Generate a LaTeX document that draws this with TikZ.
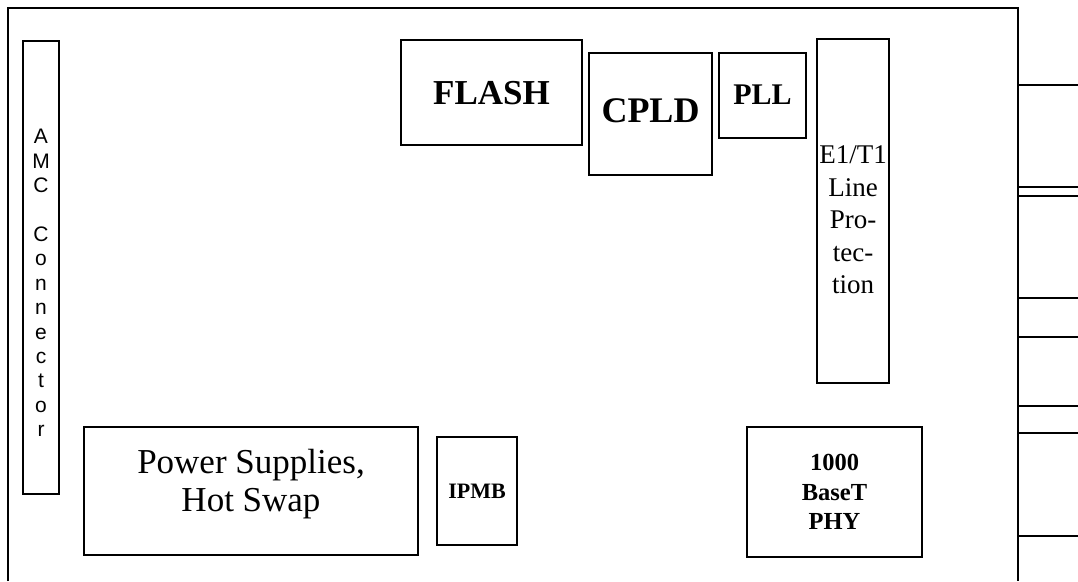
\documentclass[tikz,border=0pt]{standalone}
\usepackage{fontspec}
\setmainfont{Liberation Serif}
\newfontfamily\amcfont{Liberation Sans}
\begin{document}
\begin{tikzpicture}[x=1pt,y=-1pt,
  box/.style={draw=black,line width=1.2pt,rectangle,inner sep=0pt},
  lbl/.style={align=center,inner sep=0pt},
  stub/.style={draw=black,line width=1.2pt}]
\useasboundingbox (0,0) rectangle (1078,581);
% board outline (open at the bottom)
\coordinate (bl) at (8,581);
\coordinate (tl) at (8,8);
\coordinate (tr) at (1018,8);
\coordinate (br) at (1018,581);
\draw[line width=1.2pt] (bl) -- (tl) -- (tr) -- (br);
% blocks
\node[box,minimum width=36pt,minimum height=453pt] (amc) at (41,267.5) {};
\node[lbl,font=\amcfont\fontsize{21}{24.4}\selectfont] (amct) at (41,283)
  {A\\M\\C\\~\\C\\o\\n\\n\\e\\c\\t\\o\\r};
\node[box,minimum width=334pt,minimum height=128pt] (power) at (251,491) {};
\node[lbl,font=\fontsize{35}{38}\selectfont] (powert) at (251,484) {Power Supplies,\\Hot Swap};
\node[box,minimum width=80pt,minimum height=108pt] (ipmb) at (477,491) {};
\node[lbl,font=\bfseries\fontsize{22}{26}\selectfont] (ipmbt) at (477,491) {IPMB};
\node[box,minimum width=181pt,minimum height=105pt] (flash) at (491.5,92.5) {};
\node[lbl,font=\bfseries\fontsize{35}{40}\selectfont] (flasht) at (491.5,93) {FLASH};
\node[box,minimum width=123pt,minimum height=122pt] (cpld) at (650.5,114) {};
\node[lbl,font=\bfseries\fontsize{36}{40}\selectfont] (cpldt) at (650.5,111) {CPLD};
\node[box,minimum width=87pt,minimum height=85pt] (pll) at (762.5,95.5) {};
\node[lbl,font=\bfseries\fontsize{30}{34}\selectfont] (pllt) at (762.5,95) {PLL};
\node[box,minimum width=72pt,minimum height=344pt] (e1) at (853,211) {};
\node[lbl,font=\fontsize{27}{32.5}\selectfont] (e1t) at (853,220) {E1/T1\\Line\\Pro-\\tec-\\tion};
\node[box,minimum width=175pt,minimum height=130pt] (phy) at (834.5,492) {};
\node[lbl,font=\bfseries\fontsize{24.5}{29.5}\selectfont] (phyt) at (834.5,492) {1000\\BaseT\\PHY};
% line stubs on the right edge
\foreach \yy [count=\i] in {85,187,196,298,337,406,433,536}{
  \coordinate (s\i a) at (1018,\yy);
  \coordinate (s\i b) at (1078,\yy);
  \draw[stub] (s\i a) -- (s\i b);
}
\end{tikzpicture}
\end{document}
